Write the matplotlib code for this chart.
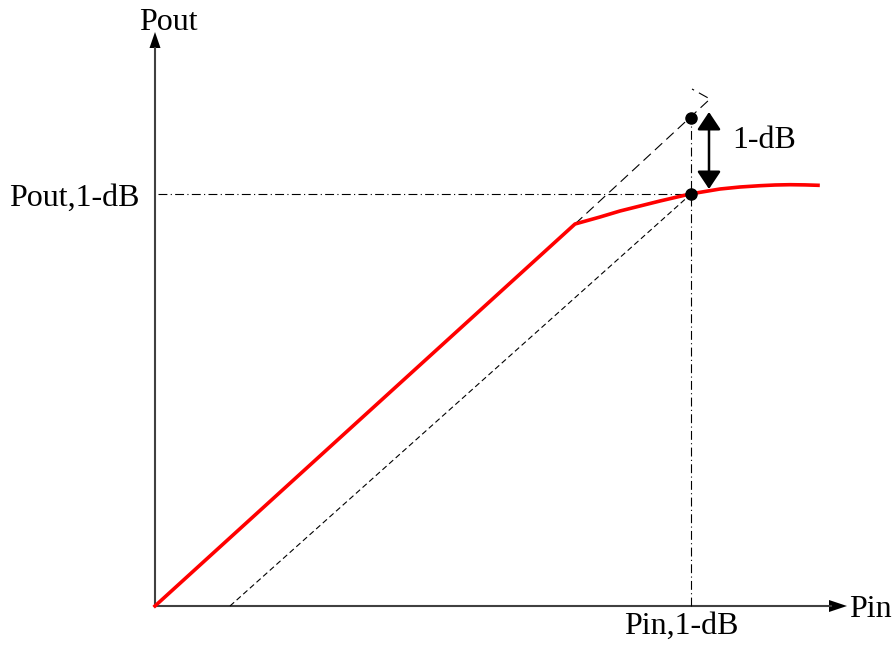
import matplotlib
matplotlib.use('Agg')
import matplotlib.pyplot as plt

# Координаты в пикселях относительно начала осей (155, 606)
# Красная кривая: линейный участок + сжатие
pin_red = [0, 420, 445, 465, 485, 505, 520, 535, 550, 565, 585, 605, 620, 635, 650, 663]
pout_red = [0, 382, 389, 395, 400, 405, 408.5, 412, 414.5, 417, 419, 420.3, 421, 421.3, 421.1, 420.7]

# Продолжение линейного участка (пунктир)
pin_ext = [420, 555, 537]
pout_ext = [382, 507, 517]

# Линия, смещённая на 1 дБ вниз
pin_shift = [75, 536]
pout_shift = [0, 412]

# Точка компрессии 1 дБ
pin_1db = 536
pout_1db = 412
pout_ideal = 488

AX_COLOR = '#404040'

plt.rcParams['font.family'] = ['Liberation Serif', 'DejaVu Serif']

fig = plt.figure(figsize=(8.93, 6.5), dpi=100)
ax = fig.add_axes([0, 0, 1, 1])
ax.set_xlim(-155, 738)
ax.set_ylim(-44, 606)
ax.axis('off')

# Оси со стрелками
ax.arrow(0, 0, 0, 574, width=1.8, head_width=11, head_length=16,
         length_includes_head=True, fc='black', ec=AX_COLOR, lw=0)
ax.plot([0, 0], [0, 558], color=AX_COLOR, lw=1.5)
ax.plot([0, 676], [0, 0], color=AX_COLOR, lw=1.5)
ax.arrow(0, 0, 692, 0, width=1.8, head_width=12, head_length=18,
         length_includes_head=True, fc='black', ec=AX_COLOR, lw=0)

# Вспомогательные линии
ax.plot([3, pin_1db], [pout_1db, pout_1db], color='black', lw=0.8,
        linestyle=(0, (8, 3, 1, 3)))
ax.plot([pin_1db, pin_1db], [0, pout_ideal], color='black', lw=0.8,
        linestyle=(0, (8, 3, 1, 3)))
ax.plot(pin_ext, pout_ext, color='black', lw=0.8, linestyle=(0, (9, 5)))
ax.plot(pin_shift, pout_shift, color='black', lw=0.8, linestyle=(0, (5, 3)))

# Характеристика усилителя
ax.plot(pin_red, pout_red, color='#ff0000', lw=2.6, solid_joinstyle='round')

# Точки
ax.plot([pin_1db, pin_1db], [pout_ideal, pout_1db], 'o', color='black',
        markersize=8, zorder=5)

# Двусторонняя стрелка 1 дБ
ax.annotate('', xy=(554, 417), xytext=(554, 494),
            arrowprops=dict(arrowstyle='<|-|>,head_length=0.45,head_width=0.3',
                            color='black', lw=1.8,
                            mutation_scale=24, shrinkA=0, shrinkB=0))

# Подписи
fs = 23
ax.text(13, 576, 'Pout', fontsize=fs, ha='center', va='baseline')
ax.text(-15, 400, 'Pout,1-dB', fontsize=fs, ha='right', va='baseline')
ax.text(694, -11, 'Pin', fontsize=fs, ha='left', va='baseline')
ax.text(526, -28, 'Pin,1-dB', fontsize=fs, ha='center', va='baseline')
ax.text(577, 458, '1-dB', fontsize=fs, ha='left', va='baseline')

fig.savefig('out.png', dpi=100)
plt.close(fig)
